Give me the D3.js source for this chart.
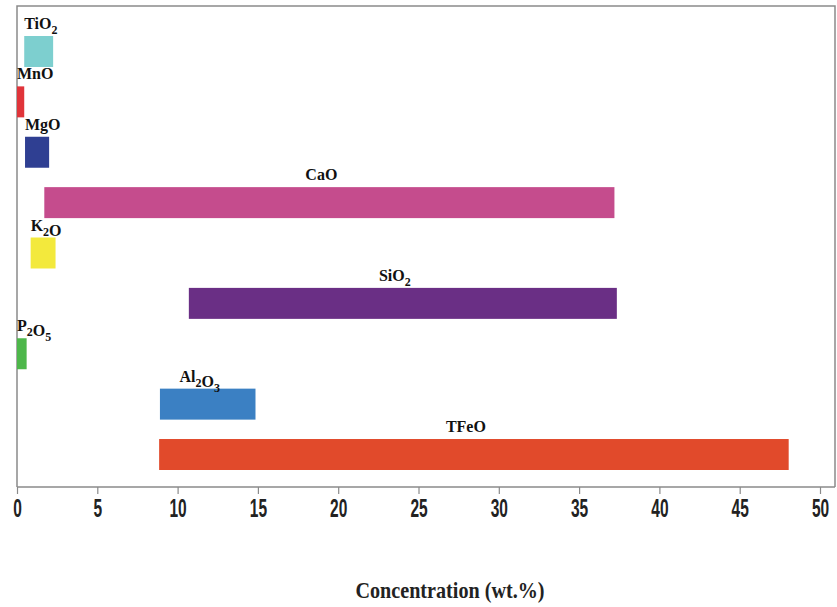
<!DOCTYPE html>
<html>
<head>
<meta charset="utf-8">
<script src="https://d3js.org/d3.v7.min.js"></script>
<style>
  body { margin: 0; background: #fff; }
</style>
</head>
<body>
<div id="chart"></div>
<script>
// oxide ranges (wt.%)
var oxides = ["TiO2", "MnO", "MgO", "CaO", "K2O", "SiO2", "P2O5", "Al2O3", "TFeO"];
var minValues = [0.45, 0, 0.5, 1.7, 0.85, 10.7, 0, 8.9, 8.85];
var maxValues = [2.25, 0.45, 2.0, 37.2, 2.4, 37.35, 0.6, 14.85, 48.05];
var barColors = ["#7dcfcf", "#e0343a", "#2f3f92", "#c54c8d", "#f3e93c", "#6a2f85", "#4db74a", "#3b80c3", "#e14a2b"];
var xTicks = [0, 5, 10, 15, 20, 25, 30, 35, 40, 45, 50];

var data = oxides.map(function (d, i) {
    return { name: d, lo: minValues[i], hi: maxValues[i] };
});

// set the dimensions and margins of the graph
var margin = { top: 6, right: 2, bottom: 120, left: 17 },
    width = 837 - margin.left - margin.right,
    height = 607 - margin.top - margin.bottom;

var svg = d3.select("#chart")
    .append("svg")
    .attr("width", 837)
    .attr("height", 607)
    .append("g")
    .attr("transform", "translate(" + margin.left + "," + margin.top + ")");

var x = d3.scaleLinear()
    .domain([0, 50])
    .range([0, 803]);

var y = d3.scaleBand()
    .domain(oxides)
    .range([30, 464])
    .paddingInner(0.385)
    .paddingOuter(0);

var color = d3.scaleOrdinal()
    .domain(oxides)
    .range(barColors);

// frame (left, top, right)
svg.append("path")
    .attr("d", "M0," + height + "V0H" + width + "V" + height)
    .attr("fill", "none")
    .attr("stroke", "#8a8a8a")
    .attr("stroke-width", 1.5);

// X axis
var xAxis = svg.append("g")
    .attr("transform", "translate(0," + height + ")")
    .call(d3.axisBottom(x).tickValues(xTicks).tickSize(7).tickPadding(5).tickSizeOuter(0));
xAxis.select(".domain")
    .attr("d", "M0,0H" + width)
    .attr("stroke", "#8a8a8a")
    .attr("stroke-width", 1.5);
xAxis.selectAll(".tick line")
    .attr("stroke", "#8a8a8a")
    .attr("stroke-width", 1.2);
// condensed tick numbers like the original
xAxis.selectAll(".tick text")
    .attr("fill", "#222")
    .attr("transform", "scale(0.62,1)")
    .style("font-family", "'Liberation Sans', 'DejaVu Sans', sans-serif")
    .style("font-weight", "bold")
    .style("font-size", "25px");

// bars
svg.append("g")
    .selectAll("rect")
    .data(data)
    .enter()
    .append("rect")
    .attr("x", function (d) { return x(d.lo); })
    .attr("y", function (d) { return y(d.name); })
    .attr("width", function (d) { return x(d.hi) - x(d.lo); })
    .attr("height", y.bandwidth())
    .attr("fill", function (d) { return color(d.name); });

// labels with subscripts
var labels = svg.append("g")
    .selectAll("text")
    .data(data)
    .enter()
    .append("text")
    .attr("x", function (d) {
        var w = x(d.hi) - x(d.lo);
        return w > 60 ? (x(d.lo) + x(d.hi)) / 2 - 8 : x(d.lo);
    })
    .attr("y", function (d) { return y(d.name) - 7; })
    .attr("text-anchor", function (d) { return x(d.hi) - x(d.lo) > 60 ? "middle" : "start"; })
    .style("font-family", "'Liberation Serif', 'Times New Roman', serif")
    .style("font-weight", "bold")
    .style("font-size", "16px")
    .attr("fill", "#111");

labels.each(function (d) {
    var t = d3.select(this);
    d.name.split(/(\d+)/).filter(function (s) { return s.length; }).forEach(function (s) {
        if (/^\d+$/.test(s)) {
            t.append("tspan").attr("dy", 5).style("font-size", "12px").text(s);
            t.append("tspan").attr("dy", -5).text("");
        } else {
            t.append("tspan").text(s);
        }
    });
});

// X axis label
svg.append("text")
    .attr("text-anchor", "middle")
    .attr("transform", "translate(" + (450 - margin.left) + "," + (598 - margin.top) + ") scale(0.84,1)")
    .style("font-family", "'Liberation Serif', 'Times New Roman', serif")
    .style("font-weight", "bold")
    .style("font-size", "24px")
    .attr("fill", "#222")
    .text("Concentration (wt.%)");
</script>
</body>
</html>
